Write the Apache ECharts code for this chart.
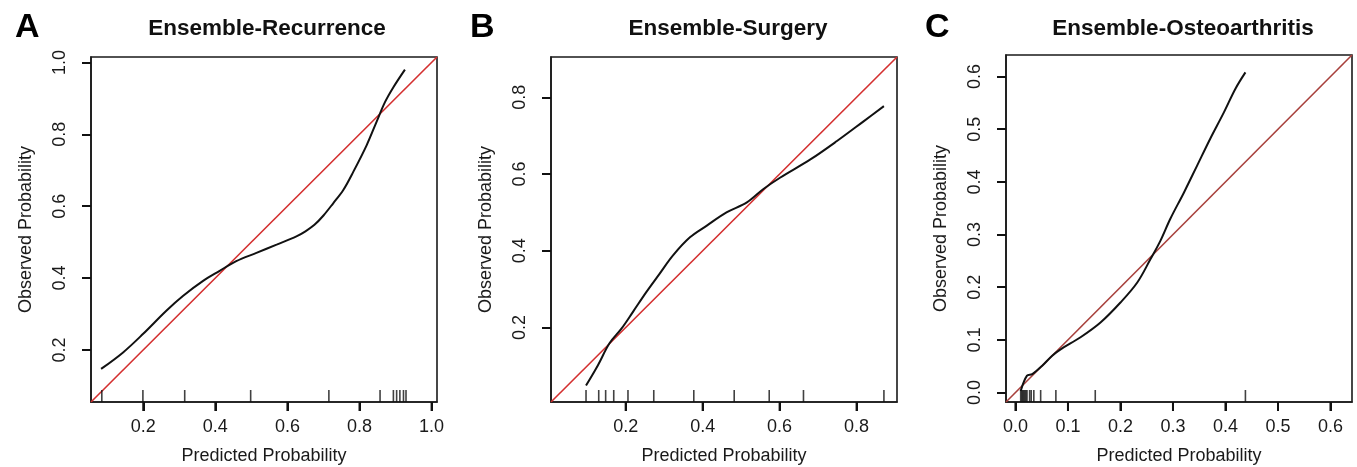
<!DOCTYPE html>
<html>
<head>
<meta charset="utf-8">
<script src="https://cdn.jsdelivr.net/npm/echarts@6/dist/echarts.min.js"></script>
<style>
html, body { margin: 0; padding: 0; background: #fff; }
#chart { width: 1357px; height: 467px; }
</style>
</head>
<body>
<div id="chart"></div>
<script>
// panel titles and letters
var panelTitles = ['Ensemble-Recurrence', 'Ensemble-Surgery', 'Ensemble-Osteoarthritis'];
var panelLetters = ['A', 'B', 'C'];

// axis ranges (same on x and y, R's square calibration plot)
var rangeRecurrence = [0.055, 1.015];
var rangeSurgery = [0.006, 0.905];
var rangeOsteo = [-0.018, 0.641];

// tick labels
var ticksRecurrence = [0.2, 0.4, 0.6, 0.8, 1.0];
var ticksSurgery = [0.2, 0.4, 0.6, 0.8];
var ticksOsteo = [0.0, 0.1, 0.2, 0.3, 0.4, 0.5, 0.6];

// calibration curves (predicted, observed)
var predRecurrence = [0.083, 0.144, 0.199, 0.264, 0.310, 0.366, 0.412, 0.458, 0.514, 0.570, 0.625, 0.650, 0.675, 0.700, 0.727, 0.755, 0.783, 0.820, 0.847, 0.871, 0.894, 0.926];
var obsRecurrence  = [0.147, 0.193, 0.244, 0.309, 0.350, 0.392, 0.420, 0.447, 0.470, 0.493, 0.516, 0.530, 0.548, 0.574, 0.608, 0.645, 0.696, 0.770, 0.834, 0.890, 0.931, 0.980];

var predSurgery = [0.097, 0.128, 0.158, 0.189, 0.219, 0.254, 0.288, 0.323, 0.367, 0.410, 0.462, 0.515, 0.558, 0.602, 0.680, 0.749, 0.819, 0.871];
var obsSurgery  = [0.049, 0.102, 0.159, 0.197, 0.241, 0.293, 0.340, 0.388, 0.435, 0.465, 0.500, 0.526, 0.561, 0.591, 0.638, 0.686, 0.738, 0.777];

var predOsteo = [0.010, 0.022, 0.032, 0.051, 0.070, 0.086, 0.124, 0.162, 0.200, 0.232, 0.257, 0.276, 0.295, 0.321, 0.346, 0.371, 0.397, 0.419, 0.438];
var obsOsteo  = [0.003, 0.032, 0.035, 0.051, 0.070, 0.082, 0.105, 0.133, 0.171, 0.209, 0.253, 0.288, 0.330, 0.380, 0.431, 0.482, 0.532, 0.577, 0.608];

// rug marks (predicted probabilities)
var rugRecurrence = [0.085, 0.199, 0.315, 0.498, 0.715, 0.857, 0.894, 0.903, 0.912, 0.922, 0.929];
var rugSurgery = [0.097, 0.130, 0.148, 0.169, 0.206, 0.273, 0.377, 0.482, 0.573, 0.662, 0.871];
var rugOsteo = [0.010, 0.012, 0.014, 0.016, 0.018, 0.020, 0.022, 0.027, 0.030, 0.035, 0.048, 0.077, 0.152, 0.438];

var font = '"Liberation Sans", Arial, sans-serif';
var panels = [
	{ range: rangeRecurrence, ticks: ticksRecurrence, x: predRecurrence, y: obsRecurrence, rug: rugRecurrence, red: '#d42f2f',
	  grid: { left: 91, top: 57, width: 346, height: 345 }, titleX: 262, letterX: 10 },
	{ range: rangeSurgery, ticks: ticksSurgery, x: predSurgery, y: obsSurgery, rug: rugSurgery, red: '#d42f2f',
	  grid: { left: 551, top: 57, width: 346, height: 345 }, titleX: 723, letterX: 465 },
	{ range: rangeOsteo, ticks: ticksOsteo, x: predOsteo, y: obsOsteo, rug: rugOsteo, red: '#a8403c',
	  grid: { left: 1006, top: 55, width: 346, height: 347 }, titleX: 1178, letterX: 920 }
];

function fmt(v) { return Number(v).toFixed(1); }

// build one R-style axis (box drawn by the grid, ticks pointing out)
function makeAxis(i, p, isX) {
	return {
		type: 'value', gridIndex: i, min: p.range[0], max: p.range[1],
		position: isX ? 'bottom' : 'left',
		axisLine: { show: true, onZero: false, lineStyle: { color: '#1a1a1a', width: 1.6 } },
		splitLine: { show: false },
		axisTick: { show: true, inside: false, length: 9, customValues: p.ticks.slice(), lineStyle: { color: '#111', width: 2 } },
		axisLabel: {
			show: true, customValues: p.ticks.slice(), formatter: fmt,
			rotate: isX ? 0 : 90, margin: isX ? 16 : 22,
			fontFamily: font, fontSize: 18, color: '#1a1a1a'
		},
		name: isX ? 'Predicted Probability' : 'Observed Probability',
		nameLocation: 'middle',
		nameGap: isX ? 45 : 56,
		nameTextStyle: { fontFamily: font, fontSize: 18, color: '#1a1a1a' }
	};
}

// outward tick marks under the x axis, placed through the axis scale
function xTickItem(params, api) {
	var pt = api.coord([api.value(0), api.value(1)]);
	return {
		type: 'line',
		shape: { x1: pt[0], y1: pt[1], x2: pt[0], y2: pt[1] + 9 },
		style: { stroke: '#111', lineWidth: 2 }
	};
}

var option = {
	backgroundColor: '#fff',
	animation: false,
	title: [],
	grid: [],
	xAxis: [],
	yAxis: [],
	series: []
};

for (var i = 0; i < panels.length; i++) {
	var p = panels[i];
	option.title.push({
		text: panelTitles[i], left: p.titleX, top: 12, textAlign: 'center',
		textStyle: { fontFamily: font, fontSize: 22.5, fontWeight: 'bold', color: '#111' }
	});
	option.title.push({
		text: panelLetters[i], left: p.letterX, top: 6,
		textStyle: { fontFamily: font, fontSize: 34, fontWeight: 'bold', color: '#000' }
	});
	option.grid.push({
		left: p.grid.left, top: p.grid.top, width: p.grid.width, height: p.grid.height,
		outerBoundsMode: 'none', containLabel: false,
		show: true, borderColor: '#1a1a1a', borderWidth: 1.6, backgroundColor: 'transparent'
	});
	option.xAxis.push(makeAxis(i, p, true));
	option.yAxis.push(makeAxis(i, p, false));

	// red reference diagonal
	option.series.push({
		type: 'line', xAxisIndex: i, yAxisIndex: i, symbol: 'none',
		data: [[p.range[0], p.range[0]], [p.range[1], p.range[1]]],
		lineStyle: { color: p.red, width: 1.6 }, z: 3
	});
	// calibration curve
	var curve = [];
	for (var k = 0; k < p.x.length; k++) curve.push([p.x[k], p.y[k]]);
	option.series.push({
		type: 'line', xAxisIndex: i, yAxisIndex: i, symbol: 'none',
		smooth: 0.35,
		data: curve,
		lineStyle: { color: '#111', width: 2 }, z: 4
	});
	// rug
	var rug = [];
	for (var r = 0; r < p.rug.length; r++) rug.push([p.rug[r], p.range[0]]);
	option.series.push({
		type: 'scatter', xAxisIndex: i, yAxisIndex: i,
		symbol: 'rect', symbolSize: [1.6, 12], symbolOffset: [0, -6],
		itemStyle: { color: '#111' }, clip: false,
		data: rug, z: 5
	});
	// x tick marks
	var xt = [];
	for (var t = 0; t < p.ticks.length; t++) xt.push([p.ticks[t], p.range[0]]);
	option.series.push({
		type: 'custom', xAxisIndex: i, yAxisIndex: i, clip: false,
		renderItem: xTickItem, data: xt, silent: true, z: 6
	});
}

var chart = echarts.init(document.getElementById('chart'));
chart.setOption(option);
window.onresize = chart.resize;
</script>
</body>
</html>
